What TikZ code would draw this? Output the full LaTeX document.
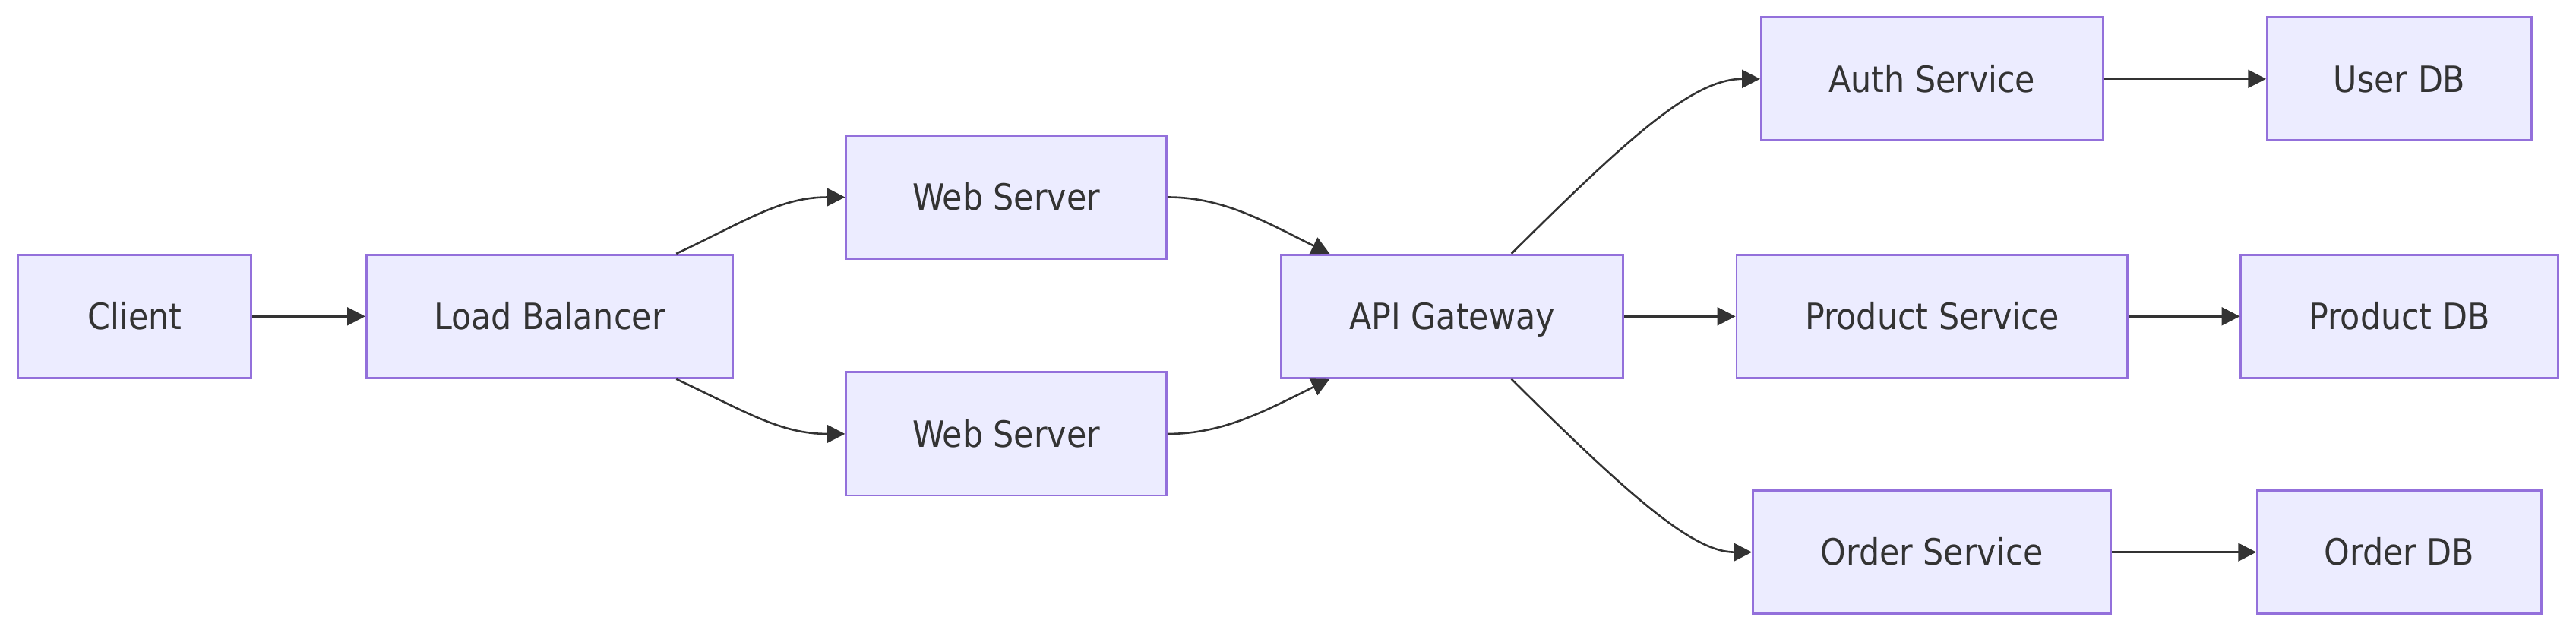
\documentclass[tikz,border=0pt]{standalone}
\usepackage{fontspec}
\setmainfont{DejaVu Sans Condensed}
\usetikzlibrary{arrows.meta}

\definecolor{archFill}{HTML}{ECECFF}
\definecolor{archLine}{HTML}{9370DB}
\definecolor{archText}{HTML}{333333}
\definecolor{archEdge}{HTML}{333333}

\tikzset{
  svcbox/.style={draw=archLine, fill=archFill, line width=1.3pt, text=archText,
    minimum height=75pt, inner sep=0pt, text height=16pt, text depth=0pt,
    font=\fontsize{22}{26}\selectfont},
  flow/.style={draw=archEdge, line width=1.2pt, -{Triangle[length=11pt,width=11pt]}}
}

\begin{document}
\begin{tikzpicture}[x=1pt, y=-1pt]
  \useasboundingbox (0,0) rectangle (1568,385);

  % boxes
  \node[svcbox, minimum width=142pt] (client) at (82,192.5) {Client};
  \node[svcbox, minimum width=223pt] (lb) at (334.5,192.5) {Load Balancer};
  \node[svcbox, minimum width=195pt] (web1) at (612.5,120) {Web Server};
  \node[svcbox, minimum width=195pt] (web2) at (612.5,264) {Web Server};
  \node[svcbox, minimum width=208pt] (api) at (884,192.5) {API Gateway};
  \node[svcbox, minimum width=208pt] (auth) at (1176,48) {Auth Service};
  \node[svcbox, minimum width=238pt] (product) at (1176,192.5) {Product Service};
  \node[svcbox, minimum width=218pt] (order) at (1176,336) {Order Service};
  \node[svcbox, minimum width=161pt] (userdb) at (1460.5,48) {User DB};
  \node[svcbox, minimum width=193pt] (productdb) at (1460.5,192.5) {Product DB};
  \node[svcbox, minimum width=173pt] (orderdb) at (1460.5,336) {Order DB};

  % connectors
  \draw[flow] (client) -- (lb);
  \draw[flow] ([xshift=-35pt]lb.north east) .. controls (455,134) and (475,120) .. (web1.west);
  \draw[flow] ([xshift=-35pt]lb.south east) .. controls (455,251) and (475,264) .. (web2.west);
  \draw[flow] (web1.east) .. controls (745,120) and (770,135) .. ([xshift=30pt]api.north west);
  \draw[flow] (web2.east) .. controls (745,264) and (770,250) .. ([xshift=30pt]api.south west);
  \draw[flow] ([xshift=36pt]api.north) .. controls (990,85) and (1030,48) .. (auth.west);
  \draw[flow] (api) -- (product);
  \draw[flow] ([xshift=36pt]api.south) .. controls (990,300) and (1030,336) .. (order.west);
  \draw[flow] (auth) -- (userdb);
  \draw[flow] (product) -- (productdb);
  \draw[flow] (order) -- (orderdb);
\end{tikzpicture}
\end{document}
